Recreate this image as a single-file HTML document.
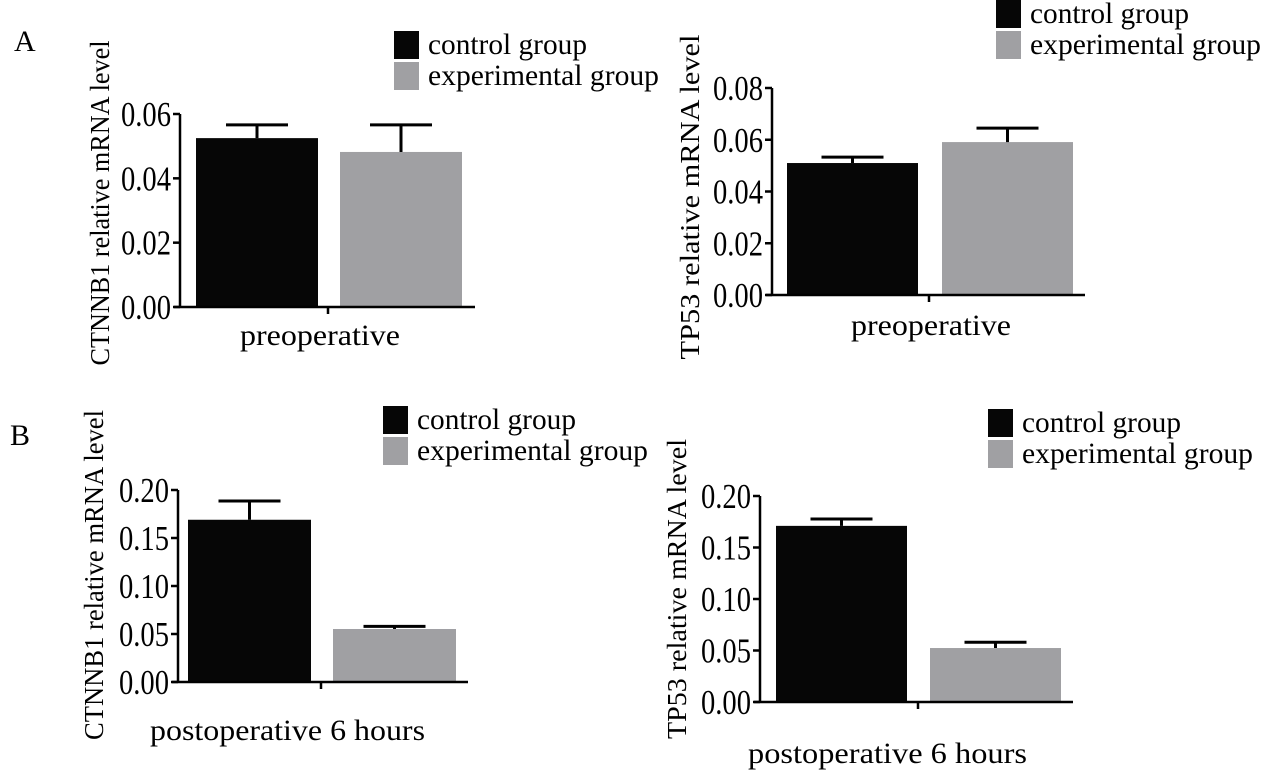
<!DOCTYPE html>
<html><head><meta charset="utf-8"><style>
body{margin:0;background:#fff;}
svg{display:block;font-family:"Liberation Serif",serif;}
</style></head><body>
<svg id="fig" width="1280" height="774" viewBox="0 0 1280 774">
<text x="14" y="51" font-size="30">A</text>
<text x="10" y="445" font-size="30">B</text>
</svg>
<script>
const categories = ["control group","experimental group"];
const p1Values = [0.0525, 0.0482];
const p1Errors = [0.0041, 0.0084];
const p1Ticks = ["0.00","0.02","0.04","0.06"];
const p2Values = [0.051, 0.0591];
const p2Errors = [0.0023, 0.0054];
const p2Ticks = ["0.00","0.02","0.04","0.06","0.08"];
const p3Values = [0.169, 0.0552];
const p3Errors = [0.0195, 0.0028];
const p3Ticks = ["0.00","0.05","0.10","0.15","0.20"];
const p4Values = [0.171, 0.0524];
const p4Errors = [0.0067, 0.0056];
const p4Ticks = ["0.00","0.05","0.10","0.15","0.20"];

const NS="http://www.w3.org/2000/svg";
const svg=document.getElementById('fig');
function mk(tag,attrs,parent){const e=document.createElementNS(NS,tag);for(const k in attrs)e.setAttribute(k,attrs[k]);(parent||svg).appendChild(e);return e;}
const colors=["#060606","#a0a0a3"];

function panel(cfg,values,errors,ticks){
  const g=mk('g',{});
  
  
  const yMax=parseFloat(ticks[ticks.length-1]);
  const y=v=>cfg.y0-(v/yMax)*(cfg.y0-cfg.yTop);
  values.forEach((v,i)=>{
    const r=mk('rect',{x:cfg.bx[i],y:y(v),width:cfg.bw,height:cfg.y0-y(v),fill:colors[i]},g);
    
    
    const cx=cfg.bx[i]+cfg.bw/2;
    const e=mk('path',{d:`M${cx} ${y(v)}V${y(v+errors[i])}M${cx-31} ${y(v+errors[i])}H${cx+31}`,stroke:"#000","stroke-width":3,fill:"none"},g);
    
    
  });
  const ax=mk('path',{d:`M${cfg.ax} ${cfg.yTop}V${cfg.y0}M${cfg.ax-6} ${cfg.y0}H${cfg.axEnd}M${cfg.tick} ${cfg.y0}V${cfg.y0+7}`,stroke:"#000","stroke-width":2.5,fill:"none"},g);
  
  
  ticks.forEach(t=>{
    const ty=y(parseFloat(t));
    mk('path',{d:`M${cfg.ax-7} ${ty}H${cfg.ax}`,stroke:"#000","stroke-width":2.5},g);
    const tx=mk('text',{x:cfg.ax-9,y:ty+12,"font-size":35,"text-anchor":"end",textLength:50,lengthAdjust:"spacingAndGlyphs"},g);
    tx.textContent=t;
    
    
  });
  const yl=mk('text',{x:0,y:0,"font-size":27,"text-anchor":"middle",transform:`translate(${cfg.ylx},${cfg.ylc}) rotate(-90)`,textLength:cfg.ylLen,lengthAdjust:"spacingAndGlyphs"},g);
  yl.textContent=cfg.ylabel;
  
  
  const xl=mk('text',{x:cfg.xlx,y:cfg.xly,"font-size":30,textLength:cfg.xlLen,lengthAdjust:"spacingAndGlyphs"},g);
  xl.textContent=cfg.xlabel;
  
  
  categories.forEach((c,i)=>{
    const ly=cfg.lgy+i*31;
    const lr=mk('rect',{x:cfg.lgx,y:ly,width:25,height:28,fill:colors[i]},g);
    
    
    const lt=mk('text',{x:cfg.lgx+34,y:ly+23,"font-size":30,textLength:i===0?159:231,lengthAdjust:"spacingAndGlyphs"},g);
    lt.textContent=c;
    
    
  });
}
panel({name:'chart-ctnnb1-preop',ax:180,y0:307,yTop:114,axEnd:475,tick:328,bx:[196,340],bw:122,ylx:109,ylc:203,ylLen:325,ylabel:"CTNNB1 relative mRNA level",xlx:240,xly:345,xlLen:160,xlabel:"preoperative",lgx:394,lgy:31},p1Values,p1Errors,p1Ticks);
panel({name:'chart-tp53-preop',ax:772,y0:295,yTop:88,axEnd:1085,tick:929,bx:[787,942],bw:131,ylx:699,ylc:197,ylLen:325,ylabel:"TP53 relative mRNA level",xlx:851,xly:335,xlLen:160,xlabel:"preoperative",lgx:996,lgy:0},p2Values,p2Errors,p2Ticks);
panel({name:'chart-ctnnb1-postop',ax:178,y0:682,yTop:490,axEnd:468,tick:321,bx:[188,333],bw:123,ylx:103,ylc:575,ylLen:330,ylabel:"CTNNB1 relative mRNA level",xlx:150,xly:740,xlLen:275,xlabel:"postoperative 6 hours",lgx:383,lgy:406},p3Values,p3Errors,p3Ticks);
panel({name:'chart-tp53-postop',ax:760,y0:702,yTop:496,axEnd:1073,tick:918,bx:[776,930],bw:131,ylx:686,ylc:589,ylLen:300,ylabel:"TP53 relative mRNA level",xlx:748,xly:763,xlLen:279,xlabel:"postoperative 6 hours",lgx:988,lgy:409},p4Values,p4Errors,p4Ticks);
</script>
</body></html>
